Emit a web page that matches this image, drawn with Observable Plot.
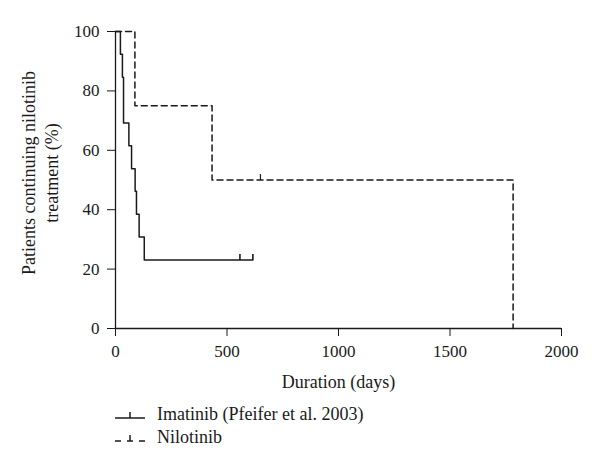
<!DOCTYPE html>
<html>
<head>
<meta charset="utf-8">
<script src="https://cdn.jsdelivr.net/npm/d3@7"></script>
<script src="https://cdn.jsdelivr.net/npm/@observablehq/plot@0.6"></script>
<style>
  html, body { margin: 0; padding: 0; background: #fff; }
  body { width: 600px; height: 470px; overflow: hidden; font-family: "Liberation Serif", "DejaVu Serif", serif; color: #1a1a1a; }
  #legend { position: relative; margin-left: 115px; margin-top: 8px; font-size: 18px; }
  .row { display: flex; align-items: center; height: 23px; }
  .row svg { margin-right: 12px; }
</style>
</head>
<body>
<div id="chart"></div>
<div id="legend"></div>
<script>
// Imatinib (Pfeifer et al. 2003) Kaplan-Meier steps
const imatinibDays = [0, 22, 31, 36, 60, 72, 88, 94, 106, 129, 616];
const imatinibPct  = [100, 92.3, 84.6, 69.2, 61.5, 53.8, 46.2, 38.5, 30.8, 23.1, 23.1];
const imatinibCensorDays = [558, 616];
const imatinibCensorPct  = [23.1, 23.1];

// Nilotinib steps
const nilotinibDays = [0, 87, 433, 1783];
const nilotinibPct  = [100, 75, 50, 0];
const nilotinibCensorDays = [650];
const nilotinibCensorPct  = [50];

const xTicks = [0, 500, 1000, 1500, 2000];
const yTicks = [0, 20, 40, 60, 80, 100];

const seriesNames = ["Imatinib (Pfeifer et al. 2003)", "Nilotinib"];

const ima = imatinibDays.map((d, i) => ({day: d, pct: imatinibPct[i]}));
const nil = nilotinibDays.map((d, i) => ({day: d, pct: nilotinibPct[i]}));
const imaC = imatinibCensorDays.map((d, i) => ({day: d, pct: imatinibCensorPct[i]}));
const nilC = nilotinibCensorDays.map((d, i) => ({day: d, pct: nilotinibCensorPct[i]}));

// censor tick symbol: a short vertical stroke going up
const censorSymbol = {
  draw(context, size) {
    const r = Math.sqrt(size / Math.PI);
    context.moveTo(0, 0);
    context.lineTo(0, -r);
  }
};

const ink = "#1a1a1a";

const chart = Plot.plot({
  width: 600,
  height: 395,
  marginLeft: 115,
  marginRight: 39,
  marginTop: 31,
  marginBottom: 67,
  style: {fontFamily: "'Liberation Serif', 'DejaVu Serif', serif", fontSize: "17px", color: ink, background: "#fff"},
  x: {domain: [0, 2000], ticks: xTicks, tickSize: 8, tickPadding: 8, tickFormat: d3.format("d"), label: null},
  y: {domain: [0, 100], ticks: yTicks, tickSize: 8, tickPadding: 8, tickFormat: d3.format("d"), label: null},
  marks: [
    Plot.ruleX([0], {stroke: ink, strokeWidth: 1.3}),
    Plot.ruleY([0], {stroke: ink, strokeWidth: 1.3}),
    Plot.line(nil, {x: "day", y: "pct", curve: "step-after", stroke: ink, strokeWidth: 1.5, strokeDasharray: "6,4"}),
    Plot.line(ima, {x: "day", y: "pct", curve: "step-after", stroke: ink, strokeWidth: 1.5}),
    Plot.dot(imaC, {x: "day", y: "pct", symbol: censorSymbol, r: 6, stroke: ink, strokeWidth: 1.6, fill: "none"}),
    Plot.dot(nilC, {x: "day", y: "pct", symbol: censorSymbol, r: 6, stroke: ink, strokeWidth: 1.2, fill: "none"}),
    Plot.text(["Patients continuing nilotinib\ntreatment (%)"], {
      frameAnchor: "left", textAnchor: "middle", rotate: -90, dx: -76, dy: -7, lineAnchor: "middle",
      fontSize: 18, fill: ink, lineHeight: 1.28
    }),
    Plot.text(["Duration (days)"], {
      frameAnchor: "bottom", dy: 54, lineAnchor: "middle", fontSize: 18, fill: ink
    })
  ]
});
document.getElementById("chart").appendChild(chart);

// Legend
const legend = d3.select("#legend");
seriesNames.forEach((name, i) => {
  const row = legend.append("div").attr("class", "row");
  const s = row.append("svg").attr("width", 30).attr("height", 14);
  s.append("line").attr("x1", 0).attr("x2", 30).attr("y1", 10).attr("y2", 10)
    .attr("stroke", ink).attr("stroke-width", 1.5)
    .attr("stroke-dasharray", i === 1 ? "6,6" : null);
  s.append("line").attr("x1", 15).attr("x2", 15).attr("y1", 10).attr("y2", 4)
    .attr("stroke", ink).attr("stroke-width", 1.5);
  row.append("span").text(name);
});
</script>
</body>
</html>
